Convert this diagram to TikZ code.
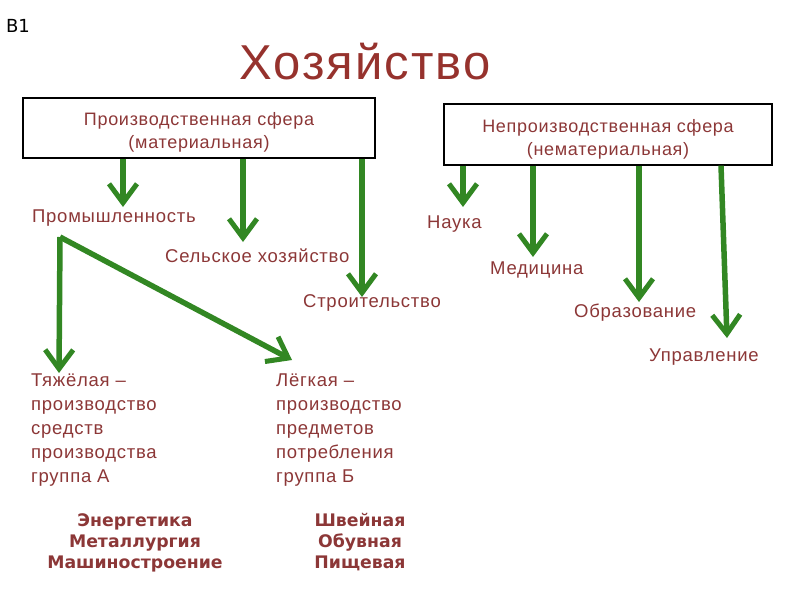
\documentclass[tikz,border=0pt]{standalone}
\usepackage{fontspec}
\setmainfont{Liberation Sans}[LetterSpace=4]
\newfontfamily\dejavu{DejaVu Sans}
\usetikzlibrary{arrows.meta}

\definecolor{textred}{RGB}{140,55,55}
\definecolor{titlered}{RGB}{150,50,45}
\definecolor{arrowgreen}{RGB}{50,135,35}

\tikzset{
  sphere/.style={draw, line width=1.2pt, inner sep=0pt},
  spheretext/.style={inner sep=0pt, align=center, text=textred,
    font=\fontsize{18}{23}\selectfont},
  branch/.style={text=textred, inner sep=0pt, anchor=west, font=\fontsize{18.5}{24}\selectfont},
  group/.style={branch, align=left, anchor=north west},
  sample/.style={text=textred, inner sep=0pt, align=center, anchor=north,
    font=\dejavu\bfseries\fontsize{17.3}{21}\selectfont},
  arr/.style={draw=arrowgreen, line width=5.5pt,
    -{Straight Barb[length=19pt,width=28pt,line width=5pt]}},
}

\begin{document}
\begin{tikzpicture}[x=1pt,y=-1pt]
\useasboundingbox (0,0) rectangle (800,600);

% title
\node[inner sep=0pt, font=\dejavu\fontsize{18}{18}\selectfont] (num) at (18,26) {B1};
\node[inner sep=0pt, text=titlered, font=\fontsize{49}{49}\selectfont] (title) at (365,62) {Хозяйство};

% two spheres
\node[sphere, minimum width=352pt, minimum height=60pt] (prod) at (199,128) {};
\node[spheretext] (prodText) at ([yshift=-4pt]prod.center)
  {Производственная сфера\\(материальная)};
\node[sphere, minimum width=328pt, minimum height=61pt] (nonprod) at (608,134.5) {};
\node[spheretext] (nonprodText) at ([yshift=-5pt]nonprod.center)
  {Непроизводственная сфера\\(нематериальная)};

% branches
\node[branch] (ind)  at (32,218)  {Промышленность};
\node[branch] (agr)  at (165,256) {Сельское хозяйство};
\node[branch] (con)  at (303,303) {Строительство};
\node[branch] (sci)  at (427,224) {Наука};
\node[branch] (med)  at (490,270) {Медицина};
\node[branch] (edu)  at (574,313) {Образование};
\node[branch] (gov)  at (649,357) {Управление};

% groups of industry
\node[group] (heavy) at (31,374)
  {Тяжёлая –\\производство\\средств\\производства\\группа А};
\node[group] (light) at (276,374)
  {Лёгкая –\\производство\\предметов\\потребления\\группа Б};
\node[sample] (heavyEx) at (135,513) {Энергетика\\Металлургия\\Машиностроение};
\node[sample] (lightEx) at (360,513) {Швейная\\Обувная\\Пищевая};

% arrow tips
\coordinate (tInd) at (123,207);
\coordinate (tAgr) at (243,242);
\coordinate (tCon) at (362,297);
\coordinate (tSci) at (463,207);
\coordinate (tMed) at (533,257);
\coordinate (tEdu) at (639,302);
\coordinate (tGov) at (727,338);
\coordinate (indFoot) at (60,237);
\coordinate (tHeavy) at (59,373);
\coordinate (tLight) at (292,360);

\draw[arr] (prod.south -| tInd) -- (tInd);
\draw[arr] (prod.south -| tAgr) -- (tAgr);
\draw[arr] (prod.south -| tCon) -- (tCon);
\draw[arr] (nonprod.south -| tSci) -- (tSci);
\draw[arr] (nonprod.south -| tMed) -- (tMed);
\draw[arr] (nonprod.south -| tEdu) -- (tEdu);
\draw[arr] ([xshift=-6pt]nonprod.south -| tGov) -- (tGov);
\draw[arr] (indFoot) -- (tHeavy);
\draw[arr] (indFoot) -- (tLight);
\end{tikzpicture}
\end{document}
